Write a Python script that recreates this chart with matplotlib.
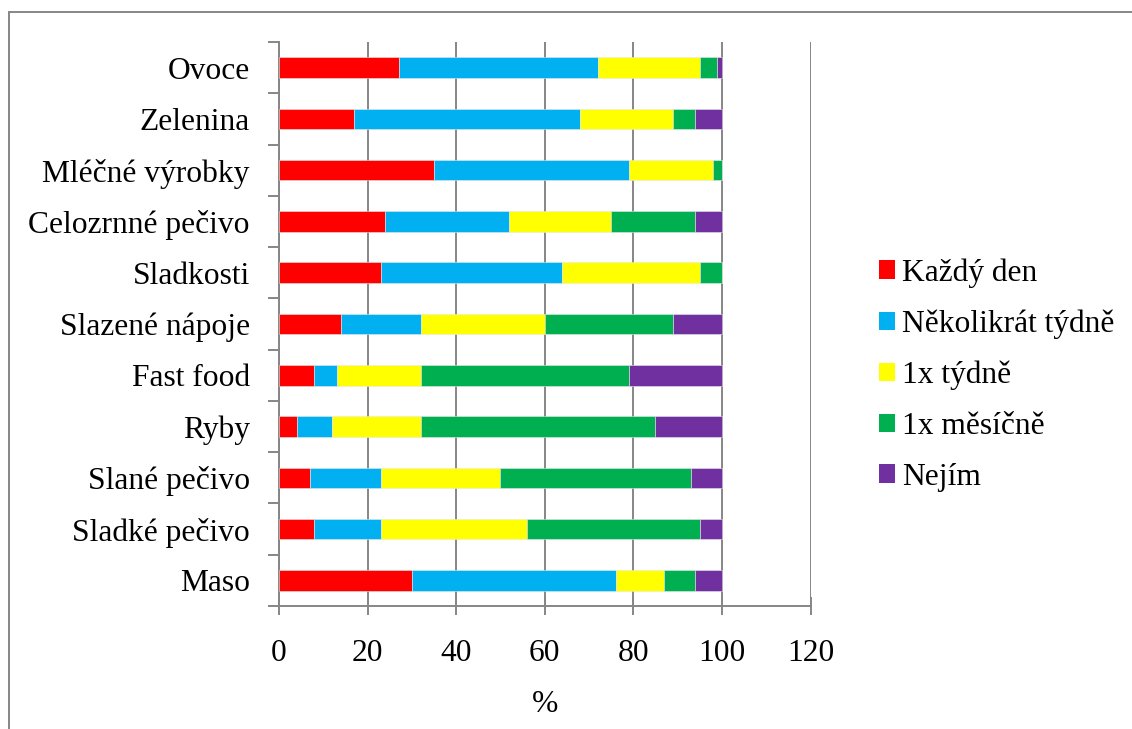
import numpy as np
import matplotlib
matplotlib.use("Agg")
import matplotlib.pyplot as plt
from matplotlib.patches import Rectangle, Patch

plt.rcParams['font.family'] = ['Liberation Serif', 'DejaVu Serif']

# food groups, top to bottom
categories = ['Ovoce', 'Zelenina', 'Mléčné výrobky', 'Celozrnné pečivo',
              'Sladkosti', 'Slazené nápoje', 'Fast food', 'Ryby',
              'Slané pečivo', 'Sladké pečivo', 'Maso']

# share of respondents (%) for each frequency
kazdy_den = [27, 17, 35, 24, 23, 14, 8, 4, 7, 8, 30]
nekolikrat_tydne = [45, 51, 44, 28, 41, 18, 5, 8, 16, 15, 46]
jednou_tydne = [23, 21, 19, 23, 31, 28, 19, 20, 27, 33, 11]
jednou_mesicne = [4, 5, 2, 19, 5, 29, 47, 53, 43, 39, 7]
nejim = [1, 6, 0, 6, 0, 11, 21, 15, 7, 5, 6]

series_labels = ['Každý den', 'Několikrát týdně', '1x týdně',
                 '1x měsíčně', 'Nejím']
colors = ['#FF0000', '#00B0F0', '#FFFF00', '#00B050', '#7030A0']

W, H = 1132, 729
fig = plt.figure(figsize=(W / 100, H / 100), dpi=100)
ax = fig.add_axes([279 / W, 1 - 606 / H, (810.5 - 279) / W, (606 - 42) / H])

grey = '#868686'
fs = 22.7

y = np.arange(len(categories))
left = np.zeros(len(categories))
for vals, col in zip([kazdy_den, nekolikrat_tydne, jednou_tydne,
                      jednou_mesicne, nejim], colors):
    vals = np.array(vals, dtype=float)
    ax.barh(y, vals, left=left, height=0.4, color=col,
            edgecolor='#e6e6e6', linewidth=0.4, zorder=3)
    left += vals

ax.set_xlim(0, 120)
ax.set_ylim(len(categories) - 0.5, -0.5)
ax.set_xticks(np.arange(0, 121, 20))
ax.xaxis.grid(True, color=grey, linewidth=1.4, zorder=0)

# category boundaries get the tick marks, labels sit at the centres
ax.set_yticks(np.arange(len(categories) + 1) - 0.5)
ax.set_yticklabels([])
ax.set_yticks(y, minor=True)
ax.set_yticklabels(categories, minor=True, fontsize=fs)
ax.tick_params(axis='y', which='major', direction='out', length=8,
               width=1.4, color=grey)
ax.tick_params(axis='y', which='minor', length=0, pad=21)
ax.tick_params(axis='x', direction='inout', length=13, width=1.4,
               color=grey, labelsize=fs, pad=17)

for side in ['top', 'right']:
    ax.spines[side].set_visible(False)
for side in ['left', 'bottom']:
    ax.spines[side].set_color(grey)
    ax.spines[side].set_linewidth(1.4)

ax.set_xlabel('%', fontsize=fs, labelpad=16)

handles = [Patch(facecolor=c, edgecolor='none') for c in colors]
fig.legend(handles, series_labels, loc='center left',
           bbox_to_anchor=(879 / W, 1 - 375 / H), frameon=False,
           fontsize=fs, handlelength=0.52, handleheight=0.52,
           handletextpad=0.22, labelspacing=0.69, borderpad=0,
           borderaxespad=0)

# chart frame, cut off at the right and bottom
fig.add_artist(Rectangle((9 / W, -0.1), 1.2, 1 - 12 / H + 0.1,
                         transform=fig.transFigure, fill=False,
                         edgecolor=grey, linewidth=1.4))

fig.savefig('out.png', dpi=100)
